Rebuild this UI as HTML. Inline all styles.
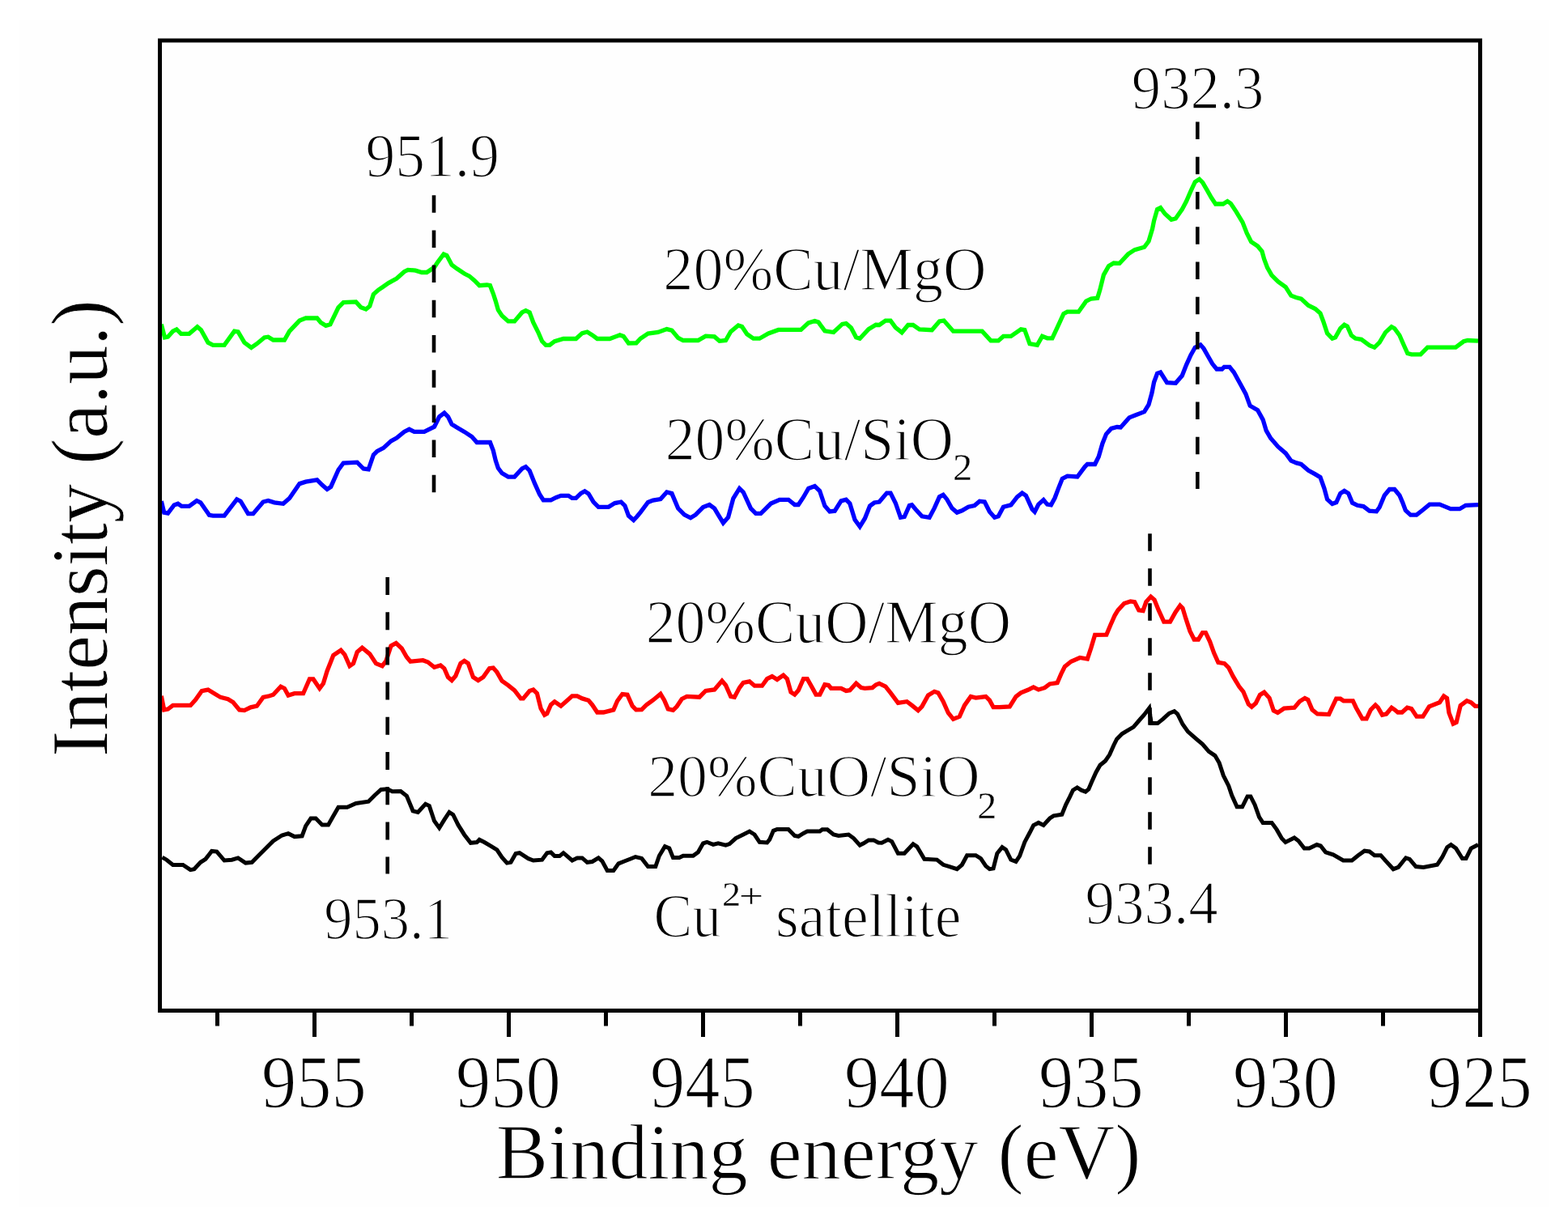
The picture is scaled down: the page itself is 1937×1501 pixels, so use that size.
<!DOCTYPE html>
<html><head><meta charset="utf-8"><title>XPS Cu 2p</title>
<style>
html,body{margin:0;padding:0;background:#fff;}
svg{display:block;}
text{font-family:"Liberation Serif","Times New Roman",serif;fill:#000;stroke:#fefefe;}
</style></head><body>
<svg width="1937" height="1501" viewBox="0 0 1937 1501">
<rect width="1937" height="1501" fill="#fff"/>
<rect x="23" y="25" width="1890" height="1466" fill="#fefefe"/>
<path d="M199.3,400.7 L203.5,417.0 L207.4,416.2 L213.6,409.2 L218.2,406.9 L223.7,412.3 L233.7,412.3 L243.8,403.8 L248.4,407.7 L257.0,423.2 L263.1,426.3 L277.1,426.3 L289.5,409.2 L294.1,410.0 L301.9,423.2 L310.4,429.4 L317.3,424.7 L326.6,417.0 L331.3,416.2 L337.5,420.0 L351.4,420.0 L357.6,409.2 L370.0,396.1 L377.7,393.0 L391.7,393.0 L396.3,398.4 L402.5,402.3 L407.9,400.7 L418.0,379.8 L424.2,373.6 L439.7,372.9 L445.9,379.8 L452.1,382.1 L456.7,378.3 L461.4,363.6 L467.6,358.1 L472.2,355.0 L480.0,349.6 L490.0,344.0 L499.3,335.7 L503.9,333.4 L513.2,334.1 L521.0,336.5 L527.2,336.5 L536.5,330.3 L541.1,323.3 L548.1,314.0 L551.9,315.6 L558.1,327.2 L564.3,331.8 L573.6,338.0 L579.8,341.1 L586.0,346.5 L592.2,352.7 L601.5,352.0 L605.4,352.7 L609.3,362.8 L612.3,372.1 L615.4,382.9 L620.1,389.9 L627.8,396.9 L635.6,396.9 L644.9,386.0 L649.5,383.7 L654.2,386.0 L658.8,398.4 L665.0,410.8 L669.6,421.6 L674.3,426.3 L678.9,426.3 L685.1,421.6 L696.0,418.5 L711.5,418.5 L719.2,411.6 L725.4,410.0 L731.6,413.9 L737.8,418.5 L753.3,418.5 L765.7,413.9 L770.3,415.4 L776.5,424.0 L786.0,423.8 L791.2,418.2 L800.5,412.0 L812.9,410.5 L823.7,406.6 L829.9,408.1 L837.7,417.4 L843.9,420.5 L862.4,420.5 L871.7,415.1 L882.6,415.9 L888.8,421.3 L896.5,420.5 L902.7,409.7 L912.0,401.9 L916.6,403.5 L922.8,412.8 L930.6,418.2 L938.3,418.2 L949.2,412.0 L961.6,407.4 L989.4,407.4 L998.7,398.9 L1006.5,396.5 L1011.1,398.1 L1018.9,408.9 L1029.7,410.5 L1040.5,400.4 L1045.2,399.6 L1051.4,405.0 L1057.6,416.7 L1062.2,418.2 L1073.0,406.6 L1082.0,401.3 L1086.2,401.5 L1093.9,396.1 L1100.1,396.1 L1106.3,404.6 L1114.1,410.8 L1121.8,401.5 L1128.0,401.5 L1135.8,406.9 L1151.2,407.7 L1160.5,396.9 L1166.0,396.1 L1177.6,409.2 L1213.2,409.2 L1224.0,420.9 L1233.3,420.9 L1239.5,415.4 L1248.8,415.4 L1261.2,406.9 L1265.8,407.7 L1272.0,424.7 L1281.3,426.3 L1287.5,415.4 L1293.7,417.8 L1299.9,417.8 L1306.1,404.6 L1313.9,387.6 L1318.5,385.2 L1332.4,385.2 L1341.7,372.1 L1347.9,369.0 L1355.7,368.2 L1358.8,358.1 L1363.4,339.6 L1369.6,328.7 L1375.8,325.0 L1383.0,325.3 L1393.7,313.9 L1401.7,308.6 L1413.6,305.3 L1419.0,298.0 L1423.6,282.6 L1425.6,272.6 L1429.6,258.6 L1433.6,256.6 L1439.0,264.0 L1447.0,271.3 L1452.3,270.0 L1460.3,258.6 L1465.6,248.6 L1471.0,236.0 L1476.3,224.7 L1481.6,221.3 L1485.6,225.3 L1491.0,234.6 L1496.3,244.0 L1501.6,252.0 L1511.0,252.0 L1516.3,248.6 L1520.3,251.3 L1527.0,261.3 L1535.0,274.6 L1540.2,288.0 L1545.6,298.6 L1553.6,304.0 L1559.0,310.6 L1561.6,320.0 L1565.6,330.6 L1571.0,340.0 L1578.9,347.9 L1588.2,354.6 L1594.9,365.2 L1601.0,367.5 L1607.4,369.1 L1616.1,377.2 L1624.8,381.5 L1631.0,387.1 L1634.7,397.0 L1639.6,411.9 L1645.8,418.1 L1649.6,416.8 L1655.8,405.7 L1660.7,401.3 L1664.4,403.2 L1669.4,414.3 L1674.3,418.1 L1681.8,419.3 L1691.7,426.7 L1697.9,429.2 L1704.1,423.0 L1711.5,410.6 L1719.0,403.8 L1722.7,405.7 L1728.9,414.3 L1733.8,425.5 L1738.8,436.6 L1743.7,437.9 L1754.9,437.9 L1763.5,429.2 L1798.2,429.2 L1808.1,421.8 L1813.1,420.5 L1826.0,421.2" fill="none" stroke="#00ff00" stroke-width="5.3" stroke-linejoin="miter" stroke-miterlimit="3" stroke-linecap="butt"/>
<path d="M199.3,619.2 L202.7,633.2 L207.4,634.0 L215.1,623.9 L219.8,622.3 L224.4,625.4 L233.7,625.4 L243.0,618.5 L247.7,620.8 L258.5,636.3 L263.1,637.1 L277.1,637.1 L292.6,616.9 L297.2,619.2 L306.5,634.7 L312.7,634.7 L325.1,620.0 L331.3,618.5 L339.0,620.8 L349.9,622.3 L357.6,615.4 L370.0,597.6 L377.7,595.2 L391.7,592.9 L397.9,599.1 L404.1,604.5 L408.7,601.4 L418.0,580.5 L424.2,572.0 L441.2,571.2 L449.0,579.0 L455.2,579.8 L461.4,562.0 L466.0,557.3 L473.8,553.4 L483.0,544.9 L490.0,541.0 L499.3,533.4 L505.5,530.3 L511.7,533.4 L524.1,533.4 L536.5,527.2 L542.7,514.8 L548.9,510.1 L553.5,514.8 L558.1,524.1 L564.3,527.9 L573.6,533.4 L582.9,539.6 L589.1,546.5 L605.4,546.5 L609.3,556.6 L612.3,569.0 L615.4,578.3 L620.1,584.5 L627.8,589.1 L635.6,589.1 L644.9,579.0 L649.5,576.7 L654.2,581.4 L660.4,596.9 L666.6,610.8 L671.2,617.8 L680.5,617.8 L686.7,614.7 L692.9,612.3 L702.2,612.3 L706.8,615.4 L711.5,615.4 L717.7,609.3 L722.3,606.9 L727.0,610.0 L733.1,620.1 L739.3,626.3 L751.7,626.3 L759.5,621.6 L767.2,620.1 L771.9,624.7 L776.5,637.1 L782.7,642.5 L787.0,638.0 L791.2,632.8 L800.5,620.4 L806.7,618.1 L816.0,616.5 L823.7,608.0 L829.9,609.6 L837.7,628.1 L845.4,635.9 L853.1,639.8 L859.3,635.9 L868.6,626.6 L876.4,623.5 L882.6,628.1 L887.2,635.9 L893.4,646.0 L899.6,639.0 L905.8,615.8 L913.5,603.4 L918.2,608.0 L927.5,628.1 L933.7,634.3 L939.9,634.3 L952.3,622.0 L963.1,617.3 L974.0,617.3 L981.7,623.5 L986.3,623.5 L992.5,614.2 L998.7,603.4 L1006.5,600.6 L1012.6,606.5 L1018.9,625.0 L1025.0,632.0 L1031.2,631.2 L1039.0,618.9 L1045.2,617.3 L1049.8,622.0 L1056.0,642.1 L1062.2,650.6 L1068.4,640.5 L1074.6,625.0 L1080.0,621.0 L1086.2,620.0 L1095.5,609.1 L1100.1,609.1 L1106.3,621.5 L1112.5,639.3 L1117.2,638.5 L1123.4,624.6 L1126.5,623.8 L1131.1,629.2 L1138.9,637.8 L1148.1,639.3 L1154.3,627.7 L1160.5,613.8 L1165.2,611.4 L1169.8,616.9 L1176.0,627.7 L1182.2,633.1 L1188.4,630.8 L1196.2,626.2 L1203.9,624.6 L1210.1,619.2 L1216.3,620.0 L1222.5,632.3 L1228.7,639.3 L1233.3,637.8 L1239.5,626.2 L1248.8,623.8 L1256.6,613.8 L1262.7,609.1 L1267.4,612.2 L1275.1,629.2 L1278.2,632.3 L1282.9,623.1 L1289.1,617.6 L1293.7,623.1 L1298.4,623.8 L1303.0,615.3 L1307.7,602.9 L1312.3,591.3 L1318.5,588.2 L1330.9,589.0 L1340.2,576.6 L1343.3,573.5 L1352.6,573.5 L1357.2,564.2 L1361.9,547.9 L1366.5,536.3 L1372.7,529.4 L1380.0,527.5 L1384.3,527.9 L1395.0,515.9 L1401.7,513.3 L1413.6,508.6 L1419.0,500.0 L1423.0,485.3 L1425.6,472.0 L1429.6,461.3 L1433.6,460.0 L1441.6,472.6 L1452.3,473.3 L1460.3,464.0 L1465.6,450.6 L1471.0,438.6 L1476.3,429.3 L1483.0,426.0 L1487.0,430.6 L1492.3,440.0 L1497.6,449.3 L1503.0,456.0 L1509.6,456.0 L1512.3,453.3 L1519.0,453.3 L1524.3,460.0 L1532.3,474.6 L1538.9,486.6 L1544.2,501.3 L1553.6,506.6 L1560.2,518.6 L1564.2,531.9 L1569.6,541.3 L1578.9,551.9 L1588.2,559.9 L1594.9,569.2 L1601.5,571.9 L1607.4,573.5 L1616.1,581.0 L1624.8,585.9 L1631.0,589.6 L1635.9,603.3 L1639.6,616.9 L1645.8,622.5 L1650.8,620.6 L1655.8,609.5 L1660.7,606.4 L1665.7,609.5 L1670.6,621.2 L1676.8,624.3 L1684.3,625.6 L1691.7,631.2 L1700.4,631.8 L1704.1,626.8 L1710.3,612.0 L1716.5,604.5 L1722.7,604.5 L1728.9,612.0 L1732.6,620.6 L1736.3,630.5 L1742.5,636.1 L1749.9,636.1 L1758.6,629.3 L1766.0,623.1 L1778.4,623.1 L1784.6,625.6 L1792.0,628.7 L1803.2,628.7 L1810.6,624.3 L1826.0,623.7" fill="none" stroke="#0000ff" stroke-width="5.3" stroke-linejoin="miter" stroke-miterlimit="3" stroke-linecap="butt"/>
<path d="M199.3,859.8 L202.7,876.9 L207.4,876.1 L213.6,871.4 L235.3,871.4 L241.5,864.5 L249.2,853.6 L257.0,852.1 L264.7,856.7 L272.4,861.4 L281.7,863.7 L287.9,867.6 L295.7,876.9 L301.9,877.6 L309.6,873.8 L317.3,872.2 L325.1,861.4 L332.8,859.8 L337.5,858.3 L346.8,848.2 L351.4,850.5 L356.1,859.0 L363.8,856.7 L374.6,856.7 L382.4,838.9 L387.0,838.9 L394.8,850.5 L399.4,844.3 L404.1,828.9 L411.8,809.5 L421.1,803.3 L425.8,808.7 L432.0,822.7 L436.5,819.6 L441.2,805.6 L447.4,800.2 L456.7,807.9 L464.5,819.6 L472.2,822.7 L476.9,816.5 L483.0,797.9 L489.3,794.5 L496.2,801.0 L502.4,811.8 L507.0,817.2 L522.5,815.7 L528.7,818.0 L536.5,824.2 L544.2,821.9 L548.8,825.8 L553.5,836.6 L558.1,840.5 L562.8,835.0 L569.0,819.6 L573.6,816.5 L578.3,819.6 L584.5,836.6 L590.7,840.5 L596.9,836.6 L604.6,825.8 L609.3,825.0 L613.9,830.4 L620.1,841.2 L627.8,846.7 L635.6,852.9 L643.3,862.9 L646.4,862.9 L654.2,853.6 L658.8,852.1 L663.4,856.7 L668.1,875.3 L672.7,883.1 L675.7,881.5 L680.5,870.7 L685.1,866.8 L692.9,872.2 L699.1,866.8 L706.8,859.8 L713.0,859.8 L719.2,862.9 L727.0,865.2 L731.6,870.7 L737.8,880.0 L745.5,880.0 L757.9,876.9 L762.6,866.0 L768.8,857.5 L775.0,858.3 L781.2,872.2 L785.8,876.9 L792.7,876.7 L798.9,870.5 L806.7,865.0 L816.0,857.3 L820.6,865.0 L825.3,875.9 L831.5,877.4 L836.1,872.8 L842.3,863.5 L848.5,860.4 L864.0,861.2 L871.7,853.4 L882.6,851.9 L891.9,841.0 L896.5,846.5 L902.7,860.4 L907.3,861.2 L913.5,849.6 L918.2,843.4 L925.9,841.8 L932.1,847.2 L941.4,847.2 L947.6,838.7 L953.8,835.6 L960.0,839.5 L967.7,834.1 L972.4,838.7 L977.0,855.0 L981.7,858.1 L986.3,852.7 L992.5,838.7 L997.2,838.7 L1003.4,849.6 L1008.0,858.1 L1012.7,858.1 L1018.9,845.7 L1023.5,846.5 L1026.6,850.3 L1039.0,850.3 L1045.2,853.4 L1049.8,852.7 L1057.6,844.1 L1063.8,849.6 L1068.4,850.3 L1077.7,849.6 L1082.0,846.0 L1086.2,844.3 L1093.9,848.1 L1100.1,855.9 L1109.4,868.3 L1120.3,866.7 L1126.5,871.4 L1134.2,877.6 L1138.9,872.9 L1146.6,859.0 L1154.3,854.3 L1159.0,855.9 L1165.2,866.7 L1171.4,880.7 L1177.6,888.4 L1185.3,885.3 L1191.5,871.4 L1199.2,860.5 L1205.4,862.1 L1217.8,860.5 L1222.5,865.2 L1227.1,873.7 L1234.9,873.7 L1247.3,872.9 L1255.0,860.5 L1261.2,855.9 L1270.5,852.0 L1276.7,848.9 L1282.9,852.0 L1290.6,849.7 L1296.8,845.0 L1306.1,843.5 L1310.8,832.7 L1315.4,823.4 L1323.1,817.2 L1334.0,812.5 L1343.3,814.1 L1347.9,800.1 L1352.6,784.4 L1366.8,784.2 L1371.9,772.0 L1377.1,760.3 L1381.0,753.9 L1388.7,745.5 L1396.5,742.9 L1401.6,743.6 L1406.8,753.9 L1412.0,754.5 L1415.8,743.6 L1421.6,737.1 L1426.1,741.0 L1431.3,753.9 L1437.8,768.1 L1445.5,768.1 L1452.0,756.5 L1457.8,748.1 L1461.0,751.3 L1464.9,764.2 L1470.0,779.7 L1475.2,790.0 L1480.4,790.0 L1485.5,781.6 L1489.4,781.6 L1494.6,792.6 L1499.7,806.8 L1504.9,818.4 L1512.6,819.7 L1517.8,824.9 L1523.0,835.2 L1530.7,848.1 L1535.9,854.6 L1542.3,870.0 L1546.2,873.3 L1551.3,868.8 L1556.5,858.4 L1561.7,855.2 L1568.1,862.3 L1573.3,877.8 L1578.4,880.4 L1586.2,875.2 L1599.0,874.2 L1605.5,866.5 L1611.9,862.6 L1615.8,864.5 L1621.0,876.8 L1627.4,882.0 L1641.6,882.6 L1645.5,874.2 L1650.7,863.2 L1655.8,863.2 L1659.7,865.8 L1671.3,865.8 L1675.2,874.2 L1682.9,887.8 L1688.1,887.8 L1693.3,876.8 L1699.1,871.0 L1702.3,874.2 L1707.5,883.2 L1712.6,882.0 L1719.1,874.2 L1722.9,876.8 L1726.8,880.0 L1732.0,880.0 L1738.4,874.2 L1743.6,875.5 L1750.0,885.2 L1757.8,885.2 L1765.5,872.9 L1773.3,869.7 L1778.4,867.8 L1783.6,860.0 L1787.5,862.6 L1790.0,880.7 L1795.2,894.2 L1799.1,892.3 L1804.2,871.6 L1812.0,865.8 L1817.2,867.8 L1822.3,872.3 L1826.0,872.3" fill="none" stroke="#ff0000" stroke-width="5.3" stroke-linejoin="miter" stroke-miterlimit="3" stroke-linecap="butt"/>
<path d="M200.4,1059.1 L205.8,1062.2 L213.6,1068.4 L226.0,1068.4 L235.3,1074.6 L239.9,1073.8 L247.7,1065.3 L253.9,1061.4 L261.6,1051.4 L267.8,1052.1 L277.1,1063.0 L286.4,1062.2 L294.1,1059.9 L303.4,1066.1 L311.2,1065.3 L318.9,1057.6 L328.2,1048.3 L337.5,1039.0 L348.3,1032.0 L356.1,1029.7 L363.8,1033.6 L373.1,1032.8 L377.7,1020.4 L384.0,1011.1 L390.1,1011.1 L397.9,1018.9 L405.6,1018.9 L411.8,1008.0 L418.0,997.2 L428.9,997.2 L439.7,992.5 L455.2,990.2 L462.9,982.5 L470.7,975.5 L478.4,974.7 L484.6,977.8 L495.0,977.5 L502.4,983.2 L510.1,1001.8 L516.3,1003.4 L525.6,993.3 L530.3,995.6 L536.5,1014.2 L542.7,1022.7 L548.9,1012.7 L555.0,1003.4 L559.7,1006.5 L565.9,1018.9 L573.6,1031.2 L581.4,1041.3 L589.1,1040.5 L592.2,1037.4 L598.4,1040.5 L606.2,1045.2 L613.9,1049.8 L620.1,1059.1 L626.3,1066.1 L631.0,1065.3 L637.1,1054.5 L641.8,1053.7 L652.6,1060.7 L658.8,1063.0 L669.6,1062.2 L675.8,1053.7 L680.5,1052.9 L685.1,1057.6 L691.3,1057.6 L696.0,1053.7 L700.6,1057.6 L706.8,1063.0 L713.0,1059.9 L719.2,1059.9 L725.4,1065.3 L731.6,1064.5 L739.3,1059.9 L743.9,1063.8 L750.2,1075.4 L757.9,1075.4 L764.1,1066.9 L771.9,1063.8 L779.6,1060.7 L785.0,1058.5 L792.7,1060.4 L800.5,1070.5 L809.8,1070.5 L814.4,1057.3 L821.4,1045.7 L826.8,1048.0 L831.5,1059.6 L839.2,1059.6 L843.9,1057.3 L856.2,1057.3 L862.4,1052.7 L868.6,1041.8 L873.3,1040.3 L881.0,1043.4 L887.2,1041.8 L896.5,1044.1 L901.2,1042.6 L908.9,1035.6 L918.2,1031.0 L925.9,1027.1 L932.1,1031.0 L938.3,1040.3 L947.6,1041.0 L950.7,1037.2 L955.4,1026.3 L960.0,1024.5 L973.9,1024.5 L981.7,1032.5 L986.3,1033.3 L992.5,1029.4 L997.2,1027.1 L1012.7,1027.1 L1015.8,1024.8 L1022.0,1024.8 L1029.7,1031.0 L1035.9,1032.5 L1048.3,1031.0 L1054.5,1035.6 L1062.2,1044.1 L1066.9,1041.8 L1073.0,1037.9 L1079.3,1037.9 L1085.0,1041.0 L1089.3,1041.2 L1097.0,1037.3 L1101.7,1039.6 L1109.4,1054.3 L1117.2,1054.3 L1128.0,1042.7 L1132.7,1045.8 L1141.9,1061.3 L1157.4,1062.1 L1165.2,1068.3 L1172.9,1070.6 L1182.2,1073.7 L1188.4,1068.3 L1194.6,1056.7 L1205.4,1056.7 L1211.6,1060.5 L1217.8,1069.8 L1222.5,1073.7 L1227.1,1072.9 L1231.8,1054.3 L1238.0,1046.6 L1242.6,1049.7 L1248.8,1062.1 L1255.0,1064.4 L1259.7,1057.4 L1265.8,1040.4 L1272.0,1028.8 L1276.7,1019.5 L1282.9,1016.4 L1289.1,1019.5 L1296.8,1011.0 L1301.5,1007.9 L1311.8,1006.3 L1316.7,994.0 L1321.6,984.4 L1325.5,976.2 L1330.7,972.9 L1335.8,976.2 L1341.0,978.1 L1344.8,974.9 L1348.7,965.8 L1353.9,954.2 L1359.0,945.2 L1365.5,940.0 L1370.7,932.3 L1375.8,920.7 L1379.7,912.9 L1386.1,906.5 L1392.6,902.6 L1400.3,898.1 L1408.1,889.0 L1413.3,883.2 L1419.7,874.8 L1421.0,885.0 L1422.3,893.6 L1430.0,893.6 L1436.5,888.4 L1444.2,881.3 L1450.7,878.7 L1454.6,882.0 L1461.0,894.8 L1467.5,903.9 L1477.8,912.9 L1485.5,919.4 L1493.3,928.4 L1501.0,933.6 L1506.2,942.6 L1511.3,958.1 L1517.8,971.0 L1521.7,982.6 L1528.1,996.8 L1534.6,996.8 L1541.0,983.9 L1544.9,983.9 L1550.1,994.2 L1555.5,1009.4 L1560.1,1016.4 L1571.0,1016.4 L1577.2,1024.9 L1583.4,1035.8 L1588.0,1040.4 L1598.9,1035.0 L1604.0,1038.8 L1611.2,1048.1 L1617.4,1048.1 L1626.7,1043.5 L1631.4,1045.0 L1637.6,1052.8 L1646.9,1055.9 L1659.3,1062.9 L1670.1,1062.9 L1677.8,1056.7 L1685.6,1051.2 L1691.8,1052.0 L1698.0,1056.7 L1705.7,1056.7 L1711.9,1063.6 L1721.2,1073.7 L1727.4,1071.4 L1736.7,1059.8 L1741.3,1061.3 L1749.1,1070.6 L1758.4,1071.4 L1775.4,1068.3 L1781.6,1059.0 L1787.8,1046.6 L1792.4,1043.5 L1798.6,1048.1 L1806.4,1060.5 L1811.0,1060.5 L1817.2,1048.1 L1826.0,1043.5" fill="none" stroke="#000000" stroke-width="5" stroke-linejoin="miter" stroke-miterlimit="3" stroke-linecap="butt"/>
<path d="M1479.3,150.5V172.0M1479.3,193.8V215.2M1479.3,237.0V258.5M1479.3,280.2V301.8M1479.3,323.5V345.0M1479.3,366.8V388.2M1479.3,410.0V431.5M1479.3,453.2V474.8M1479.3,496.5V518.0M1479.3,539.8V561.2M1479.3,583.0V604.0" stroke="#000" stroke-width="4.6" fill="none"/>
<path d="M536,241.2V262.7M536,284.4V305.9M536,327.6V349.1M536,370.8V392.3M536,414.0V435.5M536,457.2V478.7M536,500.4V521.9M536,543.6V565.1M536,586.8V608.3" stroke="#000" stroke-width="4.6" fill="none"/>
<path d="M478.7,713.0V735.0M478.7,756.2V778.2M478.7,799.4V821.4M478.7,842.6V864.6M478.7,885.8V907.8M478.7,929.0V951.0M478.7,972.2V994.2M478.7,1015.4V1037.4M478.7,1058.6V1079.5" stroke="#000" stroke-width="4.6" fill="none"/>
<path d="M1420.5,659.2V680.7M1420.5,702.2V723.7M1420.5,745.2V766.7M1420.5,788.2V809.7M1420.5,831.2V852.7M1420.5,874.2V895.7M1420.5,917.2V938.7M1420.5,960.2V981.7M1420.5,1003.2V1024.7M1420.5,1046.2V1067.7" stroke="#000" stroke-width="4.6" fill="none"/>
<rect x="197.5" y="50" width="1631" height="1198.5" fill="none" stroke="#000" stroke-width="5"/>
<path d="M388.5,1251V1281M628.5,1251V1281M868.5,1251V1281M1108.5,1251V1281M1348.5,1251V1281M1588.5,1251V1281M1828.5,1251V1281M268.5,1251V1267.5M508.5,1251V1267.5M748.5,1251V1267.5M988.5,1251V1267.5M1228.5,1251V1267.5M1468.5,1251V1267.5M1708.5,1251V1267.5" stroke="#000" stroke-width="5" fill="none"/>
<text transform="translate(323.06,1367.50) scale(0.9300,1)" font-size="93" stroke-width="1.5">955</text>
<text transform="translate(563.06,1367.50) scale(0.9300,1)" font-size="93" stroke-width="1.5">950</text>
<text transform="translate(803.06,1367.50) scale(0.9300,1)" font-size="93" stroke-width="1.5">945</text>
<text transform="translate(1043.06,1367.50) scale(0.9300,1)" font-size="93" stroke-width="1.5">940</text>
<text transform="translate(1283.06,1367.50) scale(0.9300,1)" font-size="93" stroke-width="1.5">935</text>
<text transform="translate(1523.06,1367.50) scale(0.9300,1)" font-size="93" stroke-width="1.5">930</text>
<text transform="translate(1763.06,1367.50) scale(0.9300,1)" font-size="93" stroke-width="1.5">925</text>
<text transform="translate(612.81,1455.60) scale(0.9815,1)" font-size="98.3" stroke-width="1.3">Binding energy (eV)</text>
<text transform="translate(131.5,934.87) rotate(-90) scale(0.9633,1)" font-size="100" stroke-width="0.8">Intensity (a.u.)</text>
<text transform="translate(451.49,217.60) scale(0.9681,1)" font-size="76" stroke-width="1.6">951.9</text>
<text transform="translate(1397.82,133.50) scale(0.9567,1)" font-size="76" stroke-width="1.6">932.3</text>
<text transform="translate(400.18,1159.50) scale(0.9535,1)" font-size="74" stroke-width="1.6">953.1</text>
<text transform="translate(1340.51,1140.50) scale(0.9677,1)" font-size="75.5" stroke-width="1.6">933.4</text>
<text transform="translate(819.37,357.70) scale(0.9748,1)" font-size="76" stroke-width="1.6">20%Cu/MgO</text>
<text transform="translate(821.68,567.70) scale(0.9700,1)" font-size="76" stroke-width="1.6">20%Cu/SiO</text>
<text transform="translate(1176.92,593.00) scale(1.0659,1)" font-size="45.5" stroke-width="0.3">2</text>
<text transform="translate(797.68,793.90) scale(0.9718,1)" font-size="76" stroke-width="1.6">20%CuO/MgO</text>
<text transform="translate(800.18,984.30) scale(0.9848,1)" font-size="75" stroke-width="1.6">20%CuO/SiO</text>
<text transform="translate(1207.24,1010.50) scale(1.0549,1)" font-size="45.5" stroke-width="0.3">2</text>
<text transform="translate(807.44,1157.10) scale(0.9424,1)" font-size="76" stroke-width="1.6">Cu</text>
<text transform="translate(891.92,1118.90) scale(1.0934,1)" font-size="42.3" stroke-width="0.3">2</text>
<text transform="translate(912.93,1121.03) scale(1.2608,1)" font-size="42.3" stroke-width="0.3">+</text>
<text transform="translate(958.05,1157.10) scale(0.9716,1)" font-size="76" stroke-width="1.6">satellite</text>
</svg></body></html>
